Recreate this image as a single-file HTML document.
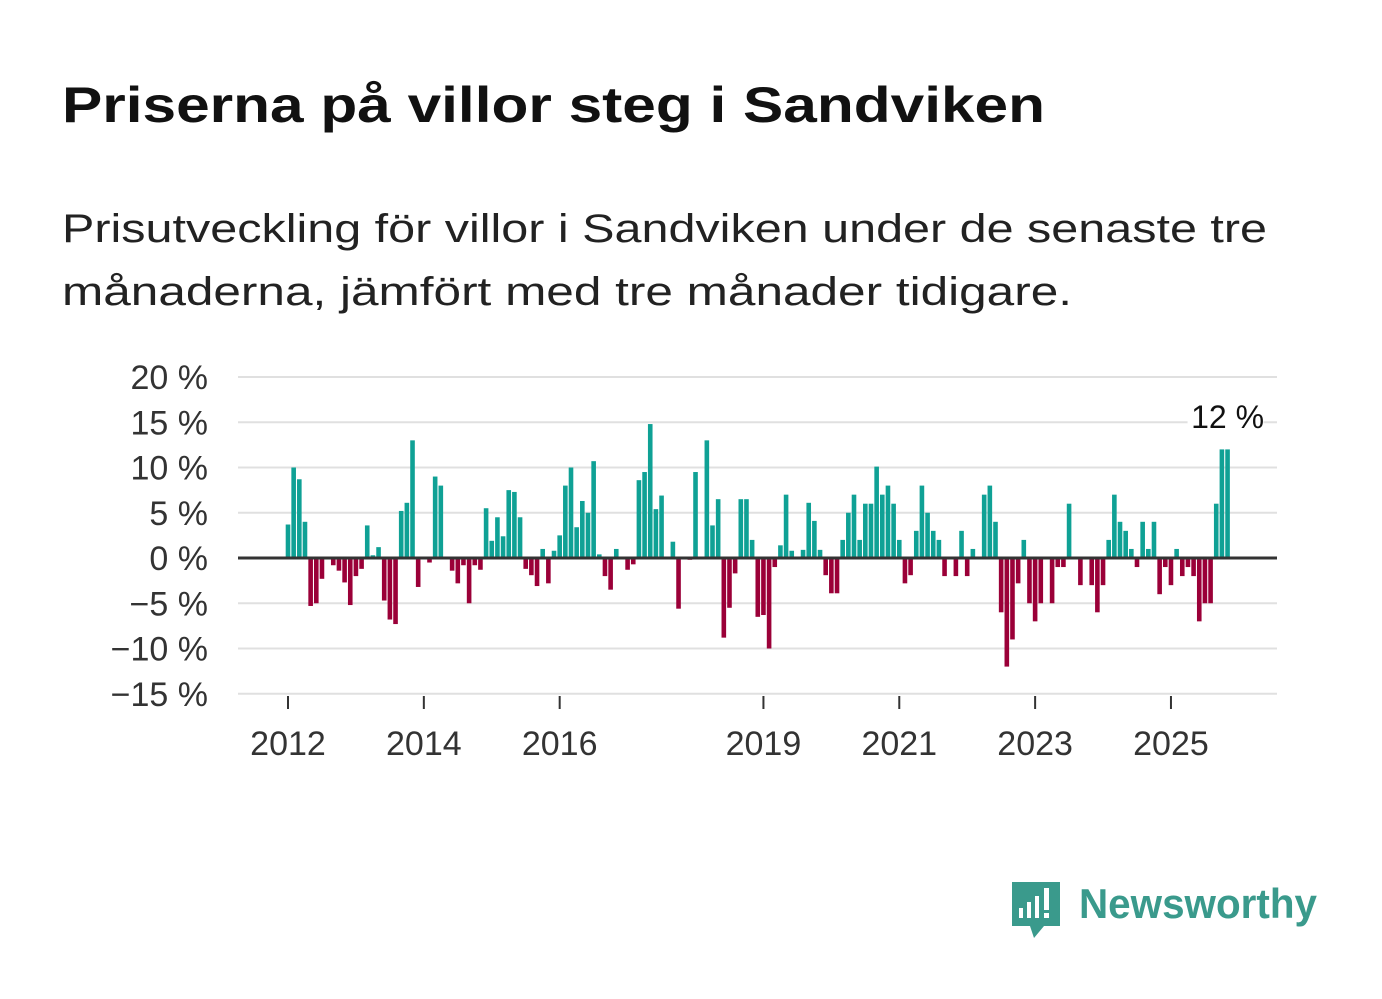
<!DOCTYPE html>
<html><head><meta charset="utf-8">
<style>
body{margin:0;background:#fff;}
svg{display:block;font-family:"Liberation Sans","DejaVu Sans",sans-serif;}
</style></head>
<body>
<svg id="c" width="1382" height="999" viewBox="0 0 1382 999">
<text x="62" y="122" font-size="50" font-weight="bold" fill="#111" textLength="983" lengthAdjust="spacingAndGlyphs">Priserna på villor steg i Sandviken</text>
<text x="62" y="242" font-size="40" fill="#222" textLength="1205" lengthAdjust="spacingAndGlyphs">Prisutveckling för villor i Sandviken under de senaste tre</text>
<text x="62" y="305" font-size="40" fill="#222" textLength="1010" lengthAdjust="spacingAndGlyphs">månaderna, jämfört med tre månader tidigare.</text>
<g id="grid"></g>
<g id="bars"></g>
<g id="axes"></g>
<g>
<path d="M1012 882 h48 v44 h-16 l-10 12 l-4 -12 h-18 z" fill="#3a9a8c"/>
<rect x="1019" y="908" width="4" height="10" fill="#fff"/>
<rect x="1027" y="902" width="4" height="16" fill="#fff"/>
<rect x="1035" y="896" width="4" height="22" fill="#fff"/>
<rect x="1044" y="888" width="5" height="22" fill="#fff"/>
<rect x="1044" y="913" width="5" height="5" fill="#fff"/>
<text x="1079" y="918" font-size="42" font-weight="bold" fill="#3a9a8c" textLength="238" lengthAdjust="spacingAndGlyphs">Newsworthy</text>
</g>
</svg>
<script>
const values=[3.7,10,8.7,4,-5.3,-5,-2.3,0,-0.8,-1.4,-2.7,-5.2,-2,-1.2,3.6,0.3,1.2,-4.7,-6.8,-7.3,5.2,6.1,13,-3.2,0,-0.5,9,8,0,-1.4,-2.8,-0.8,-5,-0.8,-1.3,5.5,1.9,4.5,2.4,7.5,7.3,4.5,-1.2,-1.9,-3.1,1,-2.8,0.8,2.5,8,10,3.4,6.3,5,10.7,0.4,-2,-3.5,1,0,-1.3,-0.7,8.6,9.5,14.8,5.4,6.9,0,1.8,-5.6,0,-0.2,9.5,0,13,3.6,6.5,-8.8,-5.5,-1.7,6.5,6.5,2,-6.5,-6.3,-10,-1,1.4,7,0.8,0,0.9,6.1,4.1,0.9,-1.9,-3.9,-3.9,2,5,7,2,6,6,10.1,7,8,6,2,-2.8,-1.9,3,8,5,3,2,-2,0,-2,3,-2,1,0,7,8,4,-6,-12,-9,-2.8,2,-5,-7,-5,0,-5,-1,-1,6,0,-3,0,-3,-6,-3,2,7,4,3,1,-1,4,1,4,-4,-1,-3,1,-2,-1,-2,-7,-5,-5,6,12,12];
const yTicks=[20,15,10,5,0,-5,-10,-15];
const xTickYears=[2012,2014,2016,2019,2021,2023,2025];
const startYear=2012;
const NS='http://www.w3.org/2000/svg';
const x0=288,pxMonth=5.66,y0=558,pxPct=9.05;
function xs(i){return x0+i*pxMonth;}
function xYear(y){return x0+(y-startYear)*12*pxMonth;}
function ys(v){return y0-v*pxPct;}
function mk(t,a,p){const e=document.createElementNS(NS,t);for(const k in a)e.setAttribute(k,a[k]);p.appendChild(e);return e;}
const grid=document.getElementById('grid'),bars=document.getElementById('bars'),axes=document.getElementById('axes');
yTicks.forEach(v=>{
 const l=mk('line',{x1:238,x2:1277,y1:ys(v),y2:ys(v),stroke:'#e0e0e0','stroke-width':2},grid);
 
 
 const t=mk('text',{x:208,y:ys(v)+12,'text-anchor':'end','font-size':34,fill:'#333'},axes);
 t.textContent=(v<0?'\u2212'+(-v):v)+' %';
 
 
});
values.forEach((v,i)=>{
 const r=mk('rect',{x:xs(i)-2.3,width:4.6,y:v>=0?ys(v):y0,height:Math.abs(v)*pxPct,fill:v>=0?'#0fa195':'#9b0038'},bars);
 
 
});
const z=mk('line',{x1:238,x2:1277,y1:y0,y2:y0,stroke:'#333','stroke-width':3},axes);


xTickYears.forEach(y=>{
 const x=xYear(y);
 const tk=mk('line',{x1:x,x2:x,y1:696,y2:709,stroke:'#333','stroke-width':2},axes);
 
 
 const t=mk('text',{x:x,y:755,'text-anchor':'middle','font-size':34,fill:'#333'},axes);
 t.textContent=y;
 
 
});
const last=values.length-1;
const bg=mk('rect',{x:xs(last)-40,y:402,width:76,height:30,fill:'#fff'},axes);


const lab=mk('text',{x:xs(last),y:428,'text-anchor':'middle','font-size':32,fill:'#111'},axes);
lab.textContent=Math.round(values[last])+' %';


</script>
</body></html>
